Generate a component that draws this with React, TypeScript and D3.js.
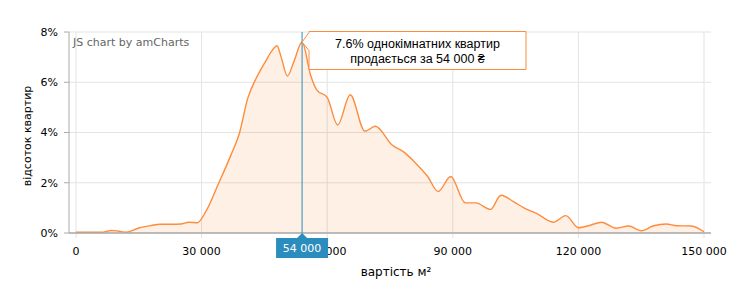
import React from "react";
import * as d3 from "d3";

const prices = [
  0, 3000, 6000, 8500, 10000, 12000, 15000, 18000, 20000, 23000, 25000, 27000, 29000,
  31000, 34000, 37000, 39000, 41000, 43000, 45000, 47000, 48000, 49000, 50500, 52000,
  54000, 56000, 57500, 60000, 62500, 65500, 69000, 71500, 75500, 78500, 81000, 84000,
  86500, 89500, 93000, 95500, 99000, 101500, 104500, 107000, 110000, 114000, 117000,
  120000, 123000, 125500, 129000, 132000, 135000, 138000, 141000, 143500, 147000, 150000,
];
const shares = [
  0.03, 0.03, 0.03, 0.1, 0.08, 0.03, 0.2, 0.3, 0.35, 0.35, 0.36, 0.43, 0.41,
  0.85, 1.95, 3.1, 3.95, 5.35, 6.15, 6.75, 7.3, 7.45, 7.0, 6.25, 6.8,
  7.6, 6.3, 5.7, 5.4, 4.3, 5.5, 4.05, 4.25, 3.5, 3.2, 2.8, 2.25,
  1.65, 2.25, 1.2, 1.2, 0.94, 1.5, 1.25, 1.0, 0.78, 0.43, 0.69,
  0.21, 0.32, 0.43, 0.19, 0.28, 0.09, 0.29, 0.36, 0.29, 0.28, 0.05,
];
const xTicks = [0, 30000, 60000, 90000, 120000, 150000];
const yTicks = [0, 2, 4, 6, 8];
const cursorPrice = 54000;
const cursorShare = 7.6;
const yTitle = "відсоток квартир";
const xTitle = "вартість м²";
const credit = "JS chart by amCharts";

const loc = d3.formatLocale({ decimal: ".", thousands: " ", grouping: [3], currency: ["", ""] });
const fmt = loc.format(",");

export default function App() {
  const font = "'DejaVu Sans', Verdana, sans-serif";
  const tipFont = "'Liberation Sans', Arial, sans-serif";
  const left = 69, right = 711, top = 32, bottom = 233;
  const x = d3.scaleLinear().domain([0, 150000]).range([76, 704]);
  const y = d3.scaleLinear().domain([0, 8]).range([bottom, top]);
  const data = prices.map((p, i) => ({ p, s: shares[i] }));
  const area = d3.area<any>().x((d) => x(d.p)).y0(y(0)).y1((d) => y(d.s)).curve(d3.curveMonotoneX);
  const line = d3.line<any>().x((d) => x(d.p)).y((d) => y(d.s)).curve(d3.curveMonotoneX);
  const cx = x(cursorPrice);
  const cy = y(cursorShare);
  const orange = "#fd8c3c";
  const blue = "#2b8cbe";
  const bx = 309, by = 31.5, bw = 217, bh = 38;
  const balloonPath = `M${bx},${by} L${bx + bw},${by} L${bx + bw},${by + bh} L${bx},${by + bh} L${bx},${by + 19} L${cx},${cy} L${bx},${by + 1}Z`;
  const lw = 52, lh = 20, ly = 238;
  return (
    <svg width={740} height={300} style={{ position: "absolute", left: 0, top: 0 }} fontFamily={font}>
      <rect width={740} height={300} fill="#fff" />
      {yTicks.map((t) => (
        <g key={"y" + t}>
          <line x1={left} x2={right} y1={y(t)} y2={y(t)} stroke="#e3e3e3" strokeWidth={1} />
          <line x1={left - 5} x2={left} y1={y(t)} y2={y(t)} stroke="#aaa" strokeWidth={1} />
          <text x={58} y={y(t)} dy="0.35em" textAnchor="end" fontSize={11} fill="#000">{t}%</text>
        </g>
      ))}
      {xTicks.map((t) => (
        <line key={"xg" + t} x1={x(t)} x2={x(t)} y1={top} y2={bottom + 5} stroke="#e3e3e3" strokeWidth={1} />
      ))}
      <path d={area(data) || ""} fill="#ff6a00" fillOpacity={0.1} />
      <path d={line(data) || ""} fill="none" stroke={orange} strokeWidth={1.4} />
      <line x1={left} x2={left} y1={top} y2={bottom} stroke="#aaa" strokeWidth={1} />
      <line x1={left} x2={right} y1={bottom} y2={bottom} stroke="#aaa" strokeWidth={1.5} />
      {xTicks.map((t) => (
        <text key={"xt" + t} x={x(t)} y={255} textAnchor="middle" fontSize={11} fill="#000">{fmt(t)}</text>
      ))}
      <text x={73} y={46} fontSize={11} fill="#666">{credit}</text>
      <text transform={`translate(31,136) rotate(-90)`} textAnchor="middle" fontSize={11} fill="#000">{yTitle}</text>
      <text x={(left + right) / 2 + 6} y={276} textAnchor="middle" fontSize={12} fill="#000">{xTitle}</text>
      <line x1={cx} x2={cx} y1={top} y2={bottom} stroke={blue} strokeWidth={1} />
      <path d={`M${cx - lw / 2},${ly} L${cx - 5},${ly} L${cx},${ly - 5} L${cx + 5},${ly} L${cx + lw / 2},${ly} L${cx + lw / 2},${ly + lh} L${cx - lw / 2},${ly + lh}Z`} fill={blue} />
      <text x={cx} y={ly + 14} textAnchor="middle" fontSize={11} fill="#fff">{fmt(cursorPrice)}</text>
      <path d={balloonPath} fill="#fff" stroke={orange} strokeWidth={1} />
      <text x={bx + bw / 2} y={48} textAnchor="middle" fontSize={12.5} fontFamily={tipFont} fill="#000">{`${cursorShare}% однокімнатних квартир`}</text>
      <text x={bx + bw / 2} y={63} textAnchor="middle" fontSize={12.5} fontFamily={tipFont} fill="#000">{`продається за ${fmt(cursorPrice)} ₴`}</text>
    </svg>
  );
}
